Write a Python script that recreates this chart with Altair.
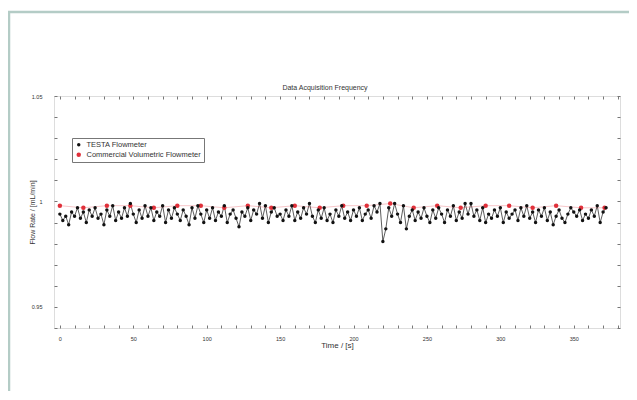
import altair as alt
import pandas as pd

# ---- data ----
testa_t = list(range(0, 374, 2))
testa_v = [
    0.994, 0.991, 0.993, 0.989, 0.995, 0.993, 0.997, 0.992, 0.995, 0.990,
    0.996, 0.993, 0.997, 0.992, 0.994, 0.989, 0.996, 0.993, 0.998, 0.991,
    0.995, 0.992, 0.997, 0.993, 0.999, 0.994, 0.990, 0.996, 0.992, 0.998,
    0.993, 0.997, 0.991, 0.995, 0.993, 0.998, 0.990, 0.996, 0.992, 0.997,
    0.994, 0.991, 0.996, 0.993, 0.989, 0.997, 0.992, 0.998, 0.994, 0.990,
    0.996, 0.992, 0.997, 0.991, 0.995, 0.993, 0.998, 0.990, 0.994, 0.996,
    0.992, 0.988, 0.995, 0.993, 0.997, 0.991, 0.996, 0.994, 0.999, 0.992,
    0.998, 0.990, 0.995, 0.997, 0.993, 0.994, 0.991, 0.996, 0.993, 0.998,
    0.991, 0.995, 0.992, 0.997, 0.994, 0.999, 0.993, 0.990, 0.996, 0.992,
    0.997, 0.991, 0.994, 0.990, 0.996, 0.993, 0.998, 0.992, 0.995, 0.991,
    0.996, 0.993, 0.997, 0.991, 0.994, 0.996, 0.992, 0.998, 0.995, 0.999,
    0.981, 0.987, 0.997, 0.993, 0.999, 0.994, 0.990, 0.998, 0.987, 0.993,
    0.996, 0.991, 0.995, 0.992, 0.997, 0.993, 0.990, 0.996, 0.992, 0.997,
    0.994, 0.990, 0.996, 0.993, 0.998, 0.991, 0.995, 0.992, 0.999, 0.994,
    0.999, 0.993, 0.996, 0.991, 0.997, 0.990, 0.994, 0.992, 0.996, 0.993,
    0.997, 0.990, 0.995, 0.992, 0.994, 0.996, 0.991, 0.997, 0.993, 0.998,
    0.992, 0.995, 0.990, 0.996, 0.993, 0.997, 0.991, 0.995, 0.989, 0.993,
    0.996, 0.992, 0.990, 0.994, 0.997, 0.995, 0.993, 0.996, 0.991, 0.994,
    0.992, 0.996, 0.993, 0.998, 0.990, 0.995, 0.997,
]
comm_t = [0, 16, 32, 48, 64, 80, 96, 112, 128, 144, 160, 177, 193, 209, 225,
          241, 257, 273, 290, 306, 322, 338, 355, 371]
comm_v = [0.998, 0.997, 0.998, 0.998, 0.997, 0.998, 0.998, 0.997, 0.998,
          0.997, 0.998, 0.997, 0.998, 0.998, 0.999, 0.997, 0.998, 0.997,
          0.998, 0.998, 0.997, 0.998, 0.997, 0.997]

chart_title = "Data Acquisition Frequency"
series_names = ["TESTA Flowmeter", "Commercial Volumetric Flowmeter"]
series_colors = ["#111111", "#e0303a"]
x_ticks = list(range(0, 390, 10))
y_ticks = [0.94, 0.95, 0.96, 0.97, 0.98, 0.99, 1.00, 1.01, 1.02, 1.03, 1.04, 1.05]

df = pd.concat([
    pd.DataFrame({"t": testa_t, "v": testa_v, "series": series_names[0]}),
    pd.DataFrame({"t": comm_t, "v": comm_v, "series": series_names[1]}),
], ignore_index=True)

FONT = "Liberation Sans"
xscale = alt.Scale(domain=[-4, 381.5], nice=False, zero=False)
yscale = alt.Scale(domain=[0.94, 1.05], nice=False, zero=False)

xaxis = alt.Axis(values=x_ticks, labelExpr="datum.value % 50 == 0 ? datum.label : ''",
                 title="Time / [s]", offset=-3, tickSize=3, domain=False,
                 labelPadding=8, labelFontSize=5.5, titleFontSize=8,
                 titleFontWeight="normal", titlePadding=0, grid=False,
                 tickColor="#777", labelColor="#333", titleColor="#333")
yaxis = alt.Axis(values=y_ticks,
                 labelExpr="abs(datum.value*20 - round(datum.value*20)) < 0.001 ? format(datum.value, '~g') : ''",
                 title="Flow Rate / [mL/min]", offset=-3, tickSize=3, domain=False,
                 labelPadding=12, labelFontSize=5.5, titleFontSize=7,
                 titleFontWeight="normal", titlePadding=-4, grid=False,
                 tickColor="#777", labelColor="#333", titleColor="#333")

base = alt.Chart(df)

frame = alt.Chart(alt.Data(values=[{}])).mark_rect(
    fill=None, stroke="#b4ccc6", strokeWidth=2.5
).encode(x=alt.value(-45), x2=alt.value(700), y=alt.value(-84), y2=alt.value(500))

title_mark = alt.Chart(alt.Data(values=[{}])).mark_text(
    text=chart_title, fontSize=7, color="#333", font=FONT, align="center", baseline="middle"
).encode(x=alt.value(271), y=alt.value(-8))

black_line = base.transform_filter(alt.datum.series == series_names[0]).mark_line(
    color="#333333", strokeWidth=0.8
).encode(x=alt.X("t:Q", scale=xscale, axis=xaxis), y=alt.Y("v:Q", scale=yscale, axis=yaxis))

red_line = base.transform_filter(alt.datum.series == series_names[1]).mark_line(
    color="#e0303a", strokeWidth=0.8, opacity=0.35
).encode(x=alt.X("t:Q", scale=xscale, axis=None), y=alt.Y("v:Q", scale=yscale, axis=None))

points = base.mark_point(filled=True, opacity=1).encode(
    x=alt.X("t:Q", scale=xscale, axis=None),
    y=alt.Y("v:Q", scale=yscale, axis=None),
    color=alt.Color("series:N", scale=alt.Scale(domain=series_names, range=series_colors),
                    sort=series_names,
                    legend=alt.Legend(title=None, orient="none", legendX=18, legendY=42,
                                      direction="vertical", strokeColor="#777",
                                      fillColor="white", padding=3, labelFontSize=7.5,
                                      symbolSize=14, rowPadding=1, symbolType="circle",
                                      labelColor="#333", labelFont=FONT)),
    size=alt.Size("series:N", scale=alt.Scale(domain=series_names, range=[12, 20]), legend=None),
    order=alt.Order("order:Q"),
).transform_calculate(order="datum.series == 'TESTA Flowmeter' ? 1 : 0")

top_right = base.mark_point(opacity=0).encode(
    x=alt.X("t:Q", scale=xscale, axis=alt.Axis(orient="top", values=x_ticks, labels=False,
                                                 title=None, offset=-3, tickSize=3,
                                                 domain=False, grid=False, tickColor="#777")),
    y=alt.Y("v:Q", scale=yscale, axis=alt.Axis(orient="right", values=y_ticks, labels=False,
                                                 title=None, offset=-3, tickSize=3,
                                                 domain=False, grid=False, tickColor="#777")),
)

chart = alt.layer(frame, title_mark, black_line, red_line, points, top_right).resolve_axis(
    x="independent", y="independent"
).properties(
    width=566, height=232,
    autosize=alt.AutoSizeParams(type="none"),
    padding={"left": 46, "top": 88, "right": 9, "bottom": 63},
    background="white",
).configure_view(stroke="#888888", strokeWidth=1).configure(font=FONT)

chart.save("out.html", embed_options={"renderer": "svg", "actions": False})
